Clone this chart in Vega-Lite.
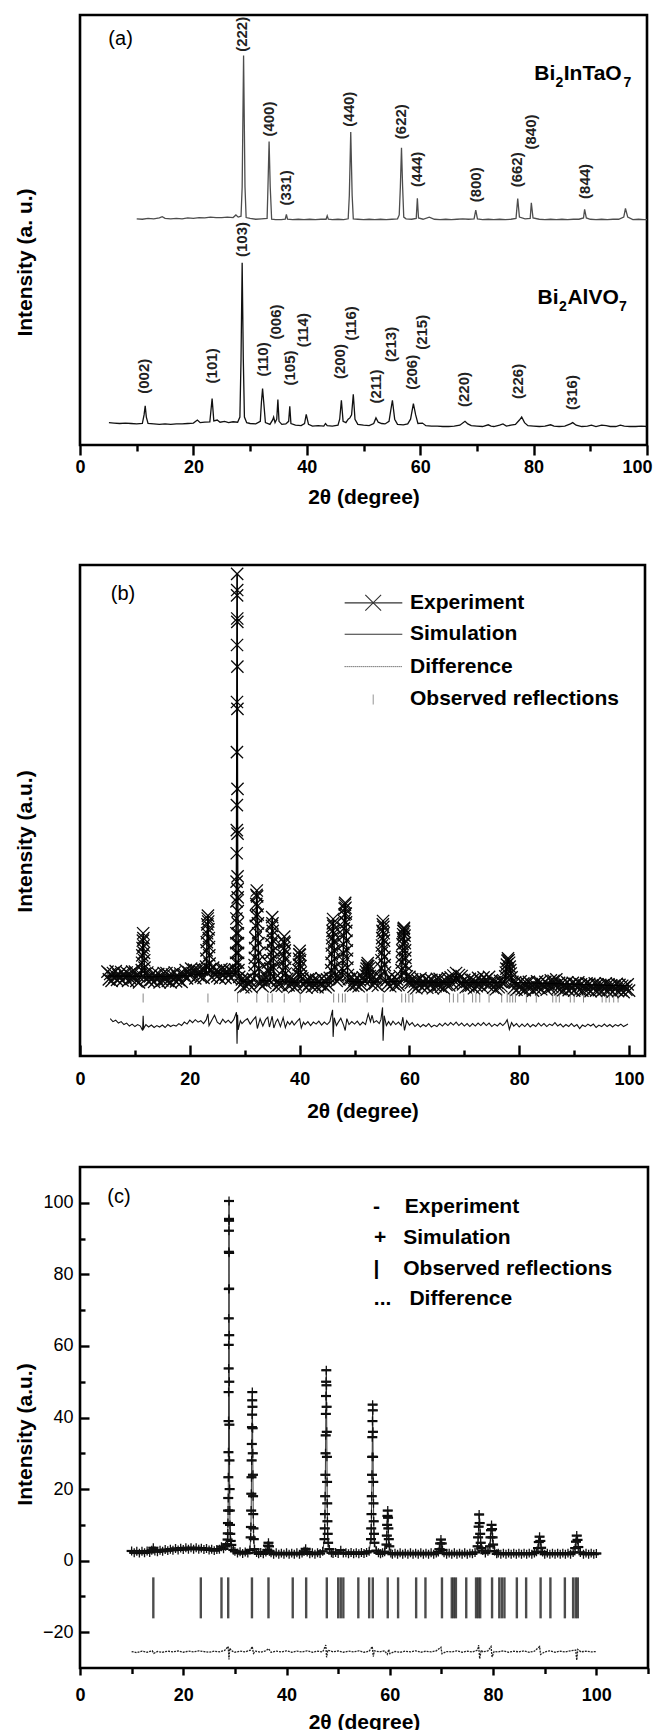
{
  "$schema": "https://vega.github.io/schema/vega-lite/v6.json",
  "background": "white",
  "padding": {"left": 12, "top": 13, "right": 0, "bottom": 0},
  "config": {
    "font": "Liberation Sans",
    "view": {"stroke": "#000", "strokeWidth": 2.6},
    "axis": {
      "domain": false, "grid": false, "tickColor": "#000", "tickWidth": 2.4,
      "labelColor": "#000", "labelFont": "Liberation Sans", "labelFontSize": 18, "labelFontWeight": "bold",
      "titleColor": "#000", "titleFont": "Liberation Sans", "titleFontSize": 21, "titleFontWeight": "bold",
      "labelFlush": false, "labelOverlap": false
    },
    "text": {"font": "Liberation Sans", "color": "#000"}
  },
  "datasets": {
    "aInTa": [
      {"x":10.0,"y":52.6},{"x":11,"y":52.5},{"x":12,"y":52.7},{"x":13,"y":52.6},{"x":14,"y":52.8},{"x":14.5,"y":53.1},{"x":15,"y":52.7},{"x":16,"y":52.6},{"x":17,"y":52.7},{"x":18,"y":52.6},{"x":19,"y":52.8},{"x":20,"y":52.7},{"x":21,"y":52.9},{"x":22,"y":52.8},{"x":23,"y":53.0},{"x":24,"y":52.9},{"x":25,"y":52.9},{"x":26,"y":53.0},{"x":27,"y":52.9},{"x":27.5,"y":53.5},{"x":27.9,"y":53.0},{"x":28.4,"y":53.2},{"x":28.6,"y":60},{"x":28.85,"y":90.6},{"x":29.1,"y":60},{"x":29.3,"y":52.9},{"x":30,"y":52.7},{"x":31,"y":52.5},{"x":32,"y":52.6},{"x":33.0,"y":52.7},{"x":33.15,"y":60},{"x":33.35,"y":70.6},{"x":33.55,"y":60},{"x":33.8,"y":52.5},{"x":34.5,"y":52.4},{"x":35.5,"y":52.4},{"x":36.2,"y":52.5},{"x":36.4,"y":53.6},{"x":36.6,"y":52.5},{"x":37.5,"y":52.4},{"x":38.5,"y":52.5},{"x":39.5,"y":52.4},{"x":40.5,"y":52.5},{"x":41.5,"y":52.4},{"x":42.5,"y":52.5},{"x":43.4,"y":52.5},{"x":43.6,"y":53.3},{"x":43.8,"y":52.5},{"x":44.5,"y":52.4},{"x":45.5,"y":52.5},{"x":46.5,"y":52.4},{"x":47.3,"y":52.6},{"x":47.5,"y":58},{"x":47.75,"y":72.8},{"x":48.0,"y":58},{"x":48.2,"y":52.6},{"x":49,"y":52.5},{"x":50,"y":52.4},{"x":51,"y":52.5},{"x":52,"y":52.4},{"x":53,"y":52.5},{"x":54,"y":52.4},{"x":55,"y":52.5},{"x":56,"y":52.6},{"x":56.3,"y":53.5},{"x":56.5,"y":60},{"x":56.7,"y":69.1},{"x":56.9,"y":60},{"x":57.1,"y":53},{"x":57.5,"y":52.6},{"x":58.5,"y":52.5},{"x":59.3,"y":52.7},{"x":59.5,"y":57.4},{"x":59.7,"y":52.8},{"x":60.5,"y":52.5},{"x":61.6,"y":53.0},{"x":62.5,"y":52.5},{"x":63.5,"y":52.4},{"x":64.5,"y":52.5},{"x":65.5,"y":52.4},{"x":66.5,"y":52.5},{"x":67.5,"y":52.6},{"x":68.5,"y":52.5},{"x":69.5,"y":52.6},{"x":69.8,"y":54.6},{"x":70.1,"y":52.6},{"x":71,"y":52.4},{"x":72,"y":52.5},{"x":73,"y":52.4},{"x":74,"y":52.5},{"x":75,"y":52.4},{"x":76,"y":52.5},{"x":76.9,"y":52.7},{"x":77.2,"y":57.3},{"x":77.5,"y":53.0},{"x":78.5,"y":52.6},{"x":79.4,"y":52.7},{"x":79.6,"y":56.3},{"x":79.9,"y":52.8},{"x":81,"y":52.5},{"x":82,"y":52.4},{"x":83,"y":52.5},{"x":84,"y":52.4},{"x":85,"y":52.5},{"x":86,"y":52.4},{"x":87,"y":52.5},{"x":88,"y":52.5},{"x":88.8,"y":52.8},{"x":89.0,"y":54.8},{"x":89.3,"y":52.8},{"x":90,"y":52.5},{"x":91,"y":52.4},{"x":92,"y":52.5},{"x":93,"y":52.4},{"x":94,"y":52.5},{"x":95,"y":52.5},{"x":95.9,"y":53.0},{"x":96.2,"y":55.0},{"x":96.6,"y":53.0},{"x":97.5,"y":52.4},{"x":98.5,"y":52.5},{"x":99.5,"y":52.4},{"x":100,"y":52.4}
    ],
    "aAlVO": [
      {"x":5.1,"y":5.2},{"x":6,"y":5.1},{"x":7,"y":5.0},{"x":8,"y":5.1},{"x":9,"y":5.0},{"x":10,"y":4.9},{"x":11.0,"y":5.0},{"x":11.3,"y":7},{"x":11.5,"y":9.1},{"x":11.7,"y":6.5},{"x":12.0,"y":5.0},{"x":13,"y":4.9},{"x":14,"y":4.8},{"x":15,"y":4.9},{"x":16,"y":4.8},{"x":17,"y":4.9},{"x":18,"y":4.9},{"x":19,"y":5.0},{"x":20,"y":5.1},{"x":20.7,"y":5.8},{"x":21.2,"y":5.2},{"x":22,"y":5.3},{"x":22.9,"y":5.4},{"x":23.3,"y":10.8},{"x":23.6,"y":5.6},{"x":24.2,"y":5.8},{"x":24.7,"y":5.3},{"x":25.5,"y":5.5},{"x":26.2,"y":5.2},{"x":27,"y":5.4},{"x":27.8,"y":5.3},{"x":28.2,"y":6.5},{"x":28.4,"y":20},{"x":28.6,"y":42.4},{"x":28.8,"y":20},{"x":29.0,"y":6.5},{"x":29.4,"y":5.2},{"x":30,"y":5.0},{"x":31,"y":4.9},{"x":31.8,"y":5.5},{"x":32.0,"y":10},{"x":32.2,"y":13.1},{"x":32.4,"y":10},{"x":32.7,"y":5.2},{"x":33.5,"y":4.8},{"x":34.0,"y":5.9},{"x":34.15,"y":6.5},{"x":34.4,"y":5.2},{"x":34.7,"y":6},{"x":34.9,"y":10.6},{"x":35.1,"y":5.5},{"x":35.6,"y":4.8},{"x":36.3,"y":4.9},{"x":36.8,"y":5.5},{"x":37.0,"y":9.0},{"x":37.2,"y":5.0},{"x":38,"y":4.6},{"x":39,"y":4.5},{"x":39.6,"y":5.0},{"x":39.9,"y":7.1},{"x":40.3,"y":4.8},{"x":41,"y":4.4},{"x":42,"y":4.5},{"x":43.0,"y":4.4},{"x":43.3,"y":5.0},{"x":43.6,"y":4.5},{"x":44.5,"y":4.4},{"x":45.5,"y":4.6},{"x":45.8,"y":6},{"x":46.1,"y":10.4},{"x":46.4,"y":5.5},{"x":46.9,"y":5.2},{"x":47.3,"y":6.0},{"x":47.6,"y":6.3},{"x":47.9,"y":7},{"x":48.2,"y":11.8},{"x":48.5,"y":6},{"x":49,"y":4.8},{"x":50,"y":4.6},{"x":51,"y":4.5},{"x":51.8,"y":5.0},{"x":52.2,"y":6.3},{"x":52.6,"y":5.3},{"x":53.2,"y":5.0},{"x":53.8,"y":4.9},{"x":54.5,"y":5.5},{"x":54.8,"y":8},{"x":55.1,"y":10.4},{"x":55.5,"y":6.0},{"x":56,"y":4.8},{"x":57,"y":4.7},{"x":57.8,"y":4.9},{"x":58.3,"y":6},{"x":58.8,"y":9.6},{"x":59.2,"y":7},{"x":59.6,"y":5.0},{"x":60.4,"y":5.1},{"x":61,"y":4.5},{"x":62,"y":4.4},{"x":63,"y":4.4},{"x":64,"y":4.3},{"x":65,"y":4.3},{"x":66,"y":4.4},{"x":67,"y":4.6},{"x":67.9,"y":5.5},{"x":68.4,"y":4.9},{"x":69,"y":4.5},{"x":70,"y":4.4},{"x":71,"y":4.3},{"x":72,"y":4.7},{"x":72.5,"y":4.4},{"x":73,"y":4.3},{"x":74,"y":4.6},{"x":74.6,"y":4.9},{"x":75.2,"y":4.4},{"x":76,"y":4.6},{"x":76.8,"y":4.8},{"x":77.5,"y":5.8},{"x":77.9,"y":6.5},{"x":78.4,"y":5.2},{"x":79,"y":4.5},{"x":80,"y":4.4},{"x":81,"y":4.3},{"x":82,"y":4.4},{"x":83,"y":4.7},{"x":83.6,"y":4.4},{"x":84.5,"y":4.3},{"x":85.5,"y":4.4},{"x":86.5,"y":4.9},{"x":86.9,"y":5.2},{"x":87.5,"y":4.6},{"x":88.5,"y":4.3},{"x":89.5,"y":4.4},{"x":90.2,"y":4.6},{"x":91,"y":4.3},{"x":92,"y":4.6},{"x":92.8,"y":4.5},{"x":93.5,"y":4.3},{"x":94.5,"y":4.3},{"x":95.3,"y":4.6},{"x":96,"y":4.4},{"x":97,"y":4.3},{"x":98,"y":4.3},{"x":99,"y":4.4},{"x":100,"y":4.3}
    ],
    "aHkl": [
      {"x":28.65,"y":95.5,"t":"(222)"},{"x":33.35,"y":75.8,"t":"(400)"},{"x":36.3,"y":59.8,"t":"(331)"},{"x":47.5,"y":78.1,"t":"(440)"},{"x":56.6,"y":75.2,"t":"(622)"},{"x":59.5,"y":64.1,"t":"(444)"},{"x":69.9,"y":60.5,"t":"(800)"},{"x":77.0,"y":64.0,"t":"(662)"},{"x":79.5,"y":72.8,"t":"(840)"},{"x":89.0,"y":61.3,"t":"(844)"},
      {"x":11.3,"y":16.0,"t":"(002)"},{"x":23.2,"y":18.4,"t":"(101)"},{"x":28.6,"y":47.8,"t":"(103)"},{"x":32.2,"y":19.9,"t":"(110)"},{"x":34.5,"y":28.6,"t":"(006)"},{"x":37.1,"y":17.9,"t":"(105)"},{"x":39.4,"y":26.7,"t":"(114)"},{"x":45.8,"y":19.4,"t":"(200)"},{"x":47.8,"y":28.3,"t":"(116)"},{"x":52.2,"y":13.6,"t":"(211)"},{"x":54.8,"y":23.4,"t":"(213)"},{"x":58.6,"y":16.9,"t":"(206)"},{"x":60.3,"y":26.2,"t":"(215)"},{"x":67.8,"y":12.9,"t":"(220)"},{"x":77.2,"y":14.8,"t":"(226)"},{"x":86.7,"y":12.2,"t":"(316)"}
    ],
    "aNameMain": [
      {"x":80.11,"y":84.81,"t":"Bi"},{"x":85.32,"y":84.81,"t":"InTaO"},{"x":80.69,"y":32.86,"t":"Bi"},{"x":85.96,"y":32.86,"t":"AlVO"}
    ],
    "aNameSub": [
      {"x":83.87,"y":83.26,"t":"2"},{"x":95.87,"y":83.26,"t":"7"},{"x":84.5,"y":31.23,"t":"2"},{"x":95.08,"y":31.23,"t":"7"}
    ],
    "aTag": [{"x":5.0,"y":94.4,"t":"(a)"}],
    "bExp": [
      {"x":5.0,"y":17.2},{"x":5.25,"y":15.6},{"x":5.5,"y":16.7},{"x":5.75,"y":15.3},{"x":6.0,"y":16.9},{"x":6.25,"y":16.0},{"x":6.5,"y":17.3},{"x":6.75,"y":15.5},{"x":7.0,"y":16.5},{"x":7.25,"y":15.8},{"x":7.5,"y":17.1},{"x":7.75,"y":15.4},{"x":8.0,"y":16.8},{"x":8.25,"y":16.1},{"x":8.5,"y":17.0},{"x":8.75,"y":15.3},{"x":9.0,"y":16.6},{"x":9.25,"y":15.7},{"x":9.5,"y":17.2},{"x":9.75,"y":15.9},{"x":10.0,"y":17.2},
      {"x":10.25,"y":15.3},{"x":10.5,"y":16.4},{"x":10.75,"y":15.0},{"x":11.0,"y":16.6},
      {"x":11.25,"y":17.5},{"x":11.3,"y":19.0},{"x":11.35,"y":20.5},{"x":11.4,"y":22.0},{"x":11.45,"y":23.5},{"x":11.5,"y":25.0},{"x":11.55,"y":24.0},{"x":11.6,"y":22.5},{"x":11.65,"y":21.0},{"x":11.7,"y":19.5},{"x":11.75,"y":18.0},{"x":11.8,"y":16.8},
      {"x":12.0,"y":15.7},{"x":12.25,"y":17.0},{"x":12.5,"y":15.2},{"x":12.75,"y":16.2},{"x":13.0,"y":15.5},{"x":13.25,"y":16.8},{"x":13.5,"y":15.1},{"x":13.75,"y":16.5},{"x":14.0,"y":15.8},{"x":14.25,"y":16.7},{"x":14.5,"y":15.0},{"x":14.75,"y":16.3},{"x":15.0,"y":15.4},{"x":15.25,"y":16.9},{"x":15.5,"y":15.6},{"x":15.75,"y":16.9},{"x":16.0,"y":15.3},{"x":16.25,"y":16.4},{"x":16.5,"y":15.0},{"x":16.75,"y":16.6},{"x":17.0,"y":15.7},{"x":17.25,"y":17.0},{"x":17.5,"y":15.2},{"x":17.75,"y":16.2},{"x":18.0,"y":15.5},{"x":18.25,"y":16.8},{"x":18.5,"y":15.1},{"x":18.75,"y":16.5},
      {"x":19.0,"y":16.6},{"x":19.25,"y":17.5},{"x":19.5,"y":15.8},{"x":19.75,"y":17.1},{"x":20.0,"y":16.4},{"x":20.25,"y":17.8},{"x":20.5,"y":16.9},{"x":20.75,"y":17.6},{"x":21.0,"y":15.8},{"x":21.25,"y":17.4},{"x":21.5,"y":16.5},{"x":21.75,"y":17.3},{"x":22.0,"y":16.1},{"x":22.25,"y":17.6},{"x":22.5,"y":15.9},{"x":22.75,"y":17.5},
      {"x":22.95,"y":18.2},{"x":23.0,"y":19.8},{"x":23.05,"y":21.5},{"x":23.1,"y":23.2},{"x":23.15,"y":25.0},{"x":23.2,"y":26.8},{"x":23.25,"y":28.0},{"x":23.3,"y":28.6},{"x":23.35,"y":27.4},{"x":23.4,"y":25.8},{"x":23.45,"y":24.0},{"x":23.5,"y":22.2},{"x":23.55,"y":20.5},{"x":23.6,"y":18.8},{"x":23.65,"y":17.5},
      {"x":23.75,"y":17.7},{"x":24.0,"y":16.0},{"x":24.25,"y":18.0},{"x":24.5,"y":16.6},{"x":24.75,"y":17.4},{"x":25.0,"y":16.2},{"x":25.25,"y":17.2},{"x":25.5,"y":15.8},{"x":25.75,"y":17.7},{"x":26.0,"y":16.4},{"x":26.25,"y":17.6},{"x":26.5,"y":15.9},{"x":26.75,"y":17.3},{"x":27.0,"y":16.6},{"x":27.25,"y":17.5},{"x":27.5,"y":15.8},{"x":27.75,"y":17.1},{"x":28.0,"y":16.5},{"x":28.25,"y":17.6},
      {"x":28.4,"y":17},{"x":28.43,"y":19},{"x":28.45,"y":21},{"x":28.47,"y":23},{"x":28.48,"y":25},{"x":28.49,"y":28},{"x":28.5,"y":31.5},{"x":28.52,"y":35.5},{"x":28.54,"y":41.3},{"x":28.56,"y":46.0},{"x":28.57,"y":51.1},{"x":28.58,"y":61.9},{"x":28.59,"y":72.1},{"x":28.6,"y":83.7},{"x":28.61,"y":93.8},{"x":28.62,"y":98.2},{"x":28.63,"y":94.9},{"x":28.64,"y":89.1},{"x":28.65,"y":88.4},{"x":28.66,"y":79.3},{"x":28.67,"y":70.7},{"x":28.68,"y":54.4},{"x":28.69,"y":45.3},{"x":28.7,"y":36.6},{"x":28.71,"y":34.0},{"x":28.72,"y":32.3},{"x":28.73,"y":29.5},{"x":28.74,"y":27},{"x":28.76,"y":25},{"x":28.77,"y":23},{"x":28.79,"y":21},{"x":28.8,"y":19},{"x":28.85,"y":17.5},
      {"x":29.0,"y":16.1},{"x":29.25,"y":14.5},{"x":29.5,"y":15.6},{"x":29.75,"y":14.0},{"x":30.0,"y":15.5},{"x":30.25,"y":14.2},{"x":30.5,"y":15.8},{"x":30.75,"y":14.6},{"x":31.0,"y":15.2},{"x":31.25,"y":14.0},{"x":31.5,"y":15.7},
      {"x":31.75,"y":17.0},{"x":31.8,"y":18.5},{"x":31.85,"y":20.0},{"x":31.9,"y":22.0},{"x":31.95,"y":24.0},{"x":32.0,"y":26.5},{"x":32.05,"y":28.5},{"x":32.1,"y":31.0},{"x":32.15,"y":32.8},{"x":32.2,"y":33.7},{"x":32.25,"y":32.5},{"x":32.3,"y":30.5},{"x":32.35,"y":28.8},{"x":32.4,"y":27.0},{"x":32.45,"y":25.0},{"x":32.5,"y":23.0},{"x":32.55,"y":21.0},{"x":32.6,"y":19.5},{"x":32.65,"y":17.8},
      {"x":32.75,"y":14.7},{"x":33.0,"y":15.4},{"x":33.25,"y":14.2},{"x":33.5,"y":15.6},{"x":33.75,"y":14.9},{"x":34.0,"y":15.9},{"x":34.1,"y":17.5},{"x":34.2,"y":19.0},{"x":34.3,"y":17.3},{"x":34.5,"y":15.3},
      {"x":34.7,"y":17.8},{"x":34.75,"y":19.5},{"x":34.8,"y":21.0},{"x":34.85,"y":22.8},{"x":34.9,"y":24.5},{"x":34.95,"y":26.5},{"x":35.0,"y":28.3},{"x":35.05,"y":27.0},{"x":35.1,"y":25.5},{"x":35.15,"y":23.5},{"x":35.2,"y":21.5},{"x":35.25,"y":19.8},{"x":35.3,"y":18.0},
      {"x":35.5,"y":15.8},{"x":35.75,"y":14.1},{"x":36.0,"y":15.3},{"x":36.25,"y":14.5},{"x":36.5,"y":15.8},{"x":36.75,"y":14.3},
      {"x":36.95,"y":17.5},{"x":37.0,"y":19.0},{"x":37.05,"y":20.5},{"x":37.1,"y":22.0},{"x":37.15,"y":23.3},{"x":37.2,"y":24.3},{"x":37.25,"y":23.0},{"x":37.3,"y":21.5},{"x":37.35,"y":19.8},{"x":37.4,"y":18.0},{"x":37.45,"y":16.8},
      {"x":37.75,"y":15.7},{"x":38.0,"y":14.4},{"x":38.25,"y":15.6},{"x":38.5,"y":14.6},{"x":38.75,"y":15.4},{"x":39.0,"y":14.0},{"x":39.25,"y":15.2},{"x":39.5,"y":14.3},
      {"x":39.75,"y":16.6},{"x":39.8,"y":17.5},{"x":39.85,"y":18.6},{"x":39.9,"y":19.8},{"x":39.95,"y":20.7},{"x":40.0,"y":21.4},{"x":40.05,"y":20.6},{"x":40.1,"y":19.5},{"x":40.15,"y":18.3},{"x":40.2,"y":17.0},{"x":40.25,"y":16.2},
      {"x":40.5,"y":15.8},{"x":40.75,"y":14.5},{"x":41.0,"y":15.2},{"x":41.25,"y":13.9},{"x":41.5,"y":15.6},{"x":41.75,"y":14.7},{"x":42.0,"y":15.8},{"x":42.25,"y":14.1},{"x":42.5,"y":15.4},{"x":42.75,"y":14.3},{"x":43.0,"y":15.5},{"x":43.25,"y":14.0},{"x":43.5,"y":15.2},{"x":43.75,"y":14.6},{"x":44.0,"y":15.8},{"x":44.25,"y":14.5},{"x":44.5,"y":15.3},{"x":44.75,"y":14.0},{"x":45.0,"y":15.6},{"x":45.25,"y":14.4},{"x":45.5,"y":15.9},
      {"x":45.75,"y":17.5},{"x":45.8,"y":19.0},{"x":45.85,"y":20.8},{"x":45.9,"y":22.5},{"x":45.95,"y":24.0},{"x":46.0,"y":25.5},{"x":46.05,"y":27.0},{"x":46.1,"y":27.9},{"x":46.15,"y":26.5},{"x":46.2,"y":25.0},{"x":46.25,"y":23.3},{"x":46.3,"y":21.5},{"x":46.35,"y":19.8},{"x":46.4,"y":18.0},{"x":46.5,"y":16.5},
      {"x":46.75,"y":15.3},{"x":47.0,"y":16.4},{"x":47.25,"y":15.6},{"x":47.5,"y":16.8},{"x":47.7,"y":17.8},
      {"x":47.85,"y":19.5},{"x":47.9,"y":21.0},{"x":47.95,"y":22.8},{"x":48.0,"y":24.5},{"x":48.05,"y":26.0},{"x":48.1,"y":27.5},{"x":48.15,"y":28.8},{"x":48.2,"y":30.0},{"x":48.25,"y":30.8},{"x":48.3,"y":31.2},{"x":48.35,"y":30.2},{"x":48.4,"y":29.0},{"x":48.45,"y":27.2},{"x":48.5,"y":25.5},{"x":48.55,"y":23.5},{"x":48.6,"y":21.5},{"x":48.65,"y":19.8},{"x":48.7,"y":18.0},{"x":48.8,"y":16.5},
      {"x":49.0,"y":15.7},{"x":49.25,"y":14.4},{"x":49.5,"y":15.9},{"x":49.75,"y":14.3},{"x":50.0,"y":15.5},{"x":50.25,"y":14.6},{"x":50.5,"y":15.8},{"x":50.75,"y":14.2},{"x":51.0,"y":15.4},{"x":51.25,"y":14.5},{"x":51.5,"y":16.0},{"x":51.75,"y":15.4},
      {"x":52.0,"y":16.5},{"x":52.1,"y":17.2},{"x":52.2,"y":17.8},{"x":52.3,"y":18.4},{"x":52.4,"y":18.9},{"x":52.5,"y":18.3},{"x":52.6,"y":17.8},{"x":52.7,"y":17.0},{"x":52.8,"y":16.3},
      {"x":53.0,"y":15.6},{"x":53.25,"y":14.5},{"x":53.5,"y":16.0},{"x":53.75,"y":14.8},{"x":54.0,"y":15.6},{"x":54.25,"y":14.3},{"x":54.5,"y":16.2},
      {"x":54.85,"y":18.0},{"x":54.9,"y":19.5},{"x":54.95,"y":21.0},{"x":55.0,"y":22.5},{"x":55.05,"y":24.0},{"x":55.1,"y":25.5},{"x":55.15,"y":26.8},{"x":55.2,"y":27.5},{"x":55.25,"y":26.3},{"x":55.3,"y":25.0},{"x":55.35,"y":23.5},{"x":55.4,"y":22.0},{"x":55.45,"y":20.2},{"x":55.5,"y":18.5},{"x":55.55,"y":17.0},
      {"x":55.75,"y":15.4},{"x":56.0,"y":14.6},{"x":56.25,"y":15.9},{"x":56.5,"y":14.2},{"x":56.75,"y":15.5},{"x":57.0,"y":14.8},{"x":57.25,"y":16.0},{"x":57.5,"y":14.4},{"x":57.75,"y":15.6},{"x":58.0,"y":14.5},{"x":58.25,"y":16.3},
      {"x":58.55,"y":17.5},{"x":58.6,"y":19.0},{"x":58.65,"y":20.2},{"x":58.7,"y":21.5},{"x":58.75,"y":22.8},{"x":58.8,"y":24.0},{"x":58.85,"y":24.8},{"x":58.9,"y":25.5},{"x":58.95,"y":25.9},{"x":59.0,"y":26.1},{"x":59.05,"y":25.3},{"x":59.1,"y":24.5},{"x":59.15,"y":23.0},{"x":59.2,"y":21.5},{"x":59.25,"y":20.0},{"x":59.3,"y":18.5},{"x":59.35,"y":17.2},
      {"x":59.5,"y":16.2},{"x":59.75,"y":15.0},{"x":60.0,"y":16.1},{"x":60.25,"y":14.9},
      {"x":60.5,"y":15.6},{"x":60.75,"y":14.1},{"x":61.0,"y":15.2},{"x":61.25,"y":13.8},{"x":61.5,"y":15.4},{"x":61.75,"y":14.5},{"x":62.0,"y":15.8},{"x":62.25,"y":14.0},{"x":62.5,"y":15.0},{"x":62.75,"y":14.3},{"x":63.0,"y":15.6},{"x":63.25,"y":13.9},{"x":63.5,"y":15.3},{"x":63.75,"y":14.6},{"x":64.0,"y":15.5},{"x":64.25,"y":13.8},{"x":64.5,"y":15.1},{"x":64.75,"y":14.2},{"x":65.0,"y":15.7},{"x":65.25,"y":14.4},{"x":65.5,"y":15.7},{"x":65.75,"y":14.1},{"x":66.0,"y":15.2},{"x":66.25,"y":13.8},{"x":66.5,"y":15.4},{"x":66.75,"y":14.5},{"x":67.0,"y":15.8},{"x":67.25,"y":14.4},{"x":67.5,"y":16.0},{"x":67.75,"y":14.9},{"x":68.0,"y":16.4},{"x":68.25,"y":15.3},{"x":68.5,"y":16.9},{"x":68.75,"y":15.4},{"x":69.0,"y":16.5},{"x":69.25,"y":14.8},{"x":69.5,"y":16.3},{"x":69.75,"y":14.6},{"x":70.0,"y":15.5},{"x":70.25,"y":14.0},{"x":70.5,"y":15.1},{"x":70.75,"y":14.2},{"x":71.0,"y":15.7},{"x":71.25,"y":14.4},{"x":71.5,"y":15.5},{"x":71.75,"y":13.8},{"x":72.0,"y":15.1},{"x":72.25,"y":14.2},{"x":72.5,"y":15.9},{"x":72.75,"y":14.5},{"x":73.0,"y":15.3},{"x":73.25,"y":14.0},{"x":73.5,"y":16.0},{"x":73.75,"y":14.9},{"x":74.0,"y":15.6},{"x":74.25,"y":14.4},{"x":74.5,"y":16.1},{"x":74.75,"y":14.7},{"x":75.0,"y":15.4},
      {"x":75.25,"y":13.9},{"x":75.5,"y":15.0},{"x":75.75,"y":13.6},{"x":76.0,"y":14.9},{"x":76.25,"y":14.0},{"x":76.5,"y":15.3},{"x":76.75,"y":14.2},{"x":77.0,"y":15.0},{"x":77.25,"y":15.2},
      {"x":77.45,"y":16.2},{"x":77.55,"y":17.0},{"x":77.65,"y":17.8},{"x":77.75,"y":18.6},{"x":77.85,"y":19.4},{"x":77.95,"y":19.9},{"x":78.05,"y":19.5},{"x":78.15,"y":19.0},{"x":78.25,"y":18.2},{"x":78.35,"y":17.5},{"x":78.45,"y":16.8},{"x":78.6,"y":16.0},
      {"x":78.75,"y":15.1},{"x":79.0,"y":13.8},{"x":79.25,"y":15.0},{"x":79.5,"y":13.5},{"x":79.75,"y":14.7},{"x":80.0,"y":13.9},{"x":80.25,"y":15.2},{"x":80.5,"y":13.6},{"x":80.75,"y":14.8},{"x":81.0,"y":13.4},{"x":81.25,"y":14.9},{"x":81.5,"y":14.0},{"x":81.75,"y":15.1},{"x":82.0,"y":13.8},{"x":82.25,"y":14.5},{"x":82.5,"y":13.3},{"x":82.75,"y":14.6},{"x":83.0,"y":13.7},{"x":83.25,"y":15.2},{"x":83.5,"y":13.9},{"x":83.75,"y":15.0},{"x":84.0,"y":13.6},{"x":84.25,"y":14.7},{"x":84.5,"y":14.1},{"x":84.75,"y":15.1},{"x":85.0,"y":13.5},{"x":85.25,"y":14.6},{"x":85.5,"y":13.9},{"x":85.75,"y":15.4},{"x":86.0,"y":14.1},{"x":86.25,"y":15.3},{"x":86.5,"y":14.4},{"x":86.75,"y":15.6},{"x":87.0,"y":13.8},{"x":87.25,"y":14.9},{"x":87.5,"y":13.6},{"x":87.75,"y":14.8},{"x":88.0,"y":13.4},{"x":88.25,"y":14.6},{"x":88.5,"y":13.8},{"x":88.75,"y":15.0},{"x":89.0,"y":13.4},{"x":89.25,"y":14.5},{"x":89.5,"y":13.7},{"x":89.75,"y":14.9},{"x":90.0,"y":13.3},{"x":90.25,"y":14.7},{"x":90.5,"y":13.9},{"x":90.75,"y":15.0},{"x":91.0,"y":13.5},{"x":91.25,"y":14.6},{"x":91.5,"y":13.3},{"x":91.75,"y":14.4},{"x":92.0,"y":13.5},{"x":92.25,"y":14.8},{"x":92.5,"y":13.6},{"x":92.75,"y":14.7},{"x":93.0,"y":13.2},{"x":93.25,"y":14.3},{"x":93.5,"y":13.7},{"x":93.75,"y":14.8},{"x":94.0,"y":13.3},{"x":94.25,"y":14.6},{"x":94.5,"y":13.4},{"x":94.75,"y":14.5},{"x":95.0,"y":13.2},{"x":95.25,"y":14.4},{"x":95.5,"y":13.6},{"x":95.75,"y":14.8},{"x":96.0,"y":13.3},{"x":96.25,"y":14.6},{"x":96.5,"y":13.5},{"x":96.75,"y":14.4},{"x":97.0,"y":13.1},{"x":97.25,"y":14.3},{"x":97.5,"y":13.6},{"x":97.75,"y":14.7},{"x":98.0,"y":13.2},{"x":98.25,"y":14.5},{"x":98.5,"y":13.4},{"x":98.75,"y":14.3},{"x":99.0,"y":13.0},{"x":99.25,"y":14.2},{"x":99.5,"y":13.5},{"x":99.75,"y":14.6},{"x":100.0,"y":13.3}
    ],
    "bSim": [
      {"x":5,"y":16.3},{"x":11.2,"y":16.2},{"x":11.5,"y":25.0},{"x":11.8,"y":16.1},{"x":20,"y":16.4},{"x":23.0,"y":16.9},{"x":23.3,"y":28.6},{"x":23.6,"y":16.9},{"x":28.3,"y":16.8},{"x":28.45,"y":30},{"x":28.55,"y":70},{"x":28.62,"y":98.2},{"x":28.68,"y":70},{"x":28.75,"y":30},{"x":28.9,"y":16.0},{"x":29.5,"y":15.2},{"x":31.8,"y":15.3},{"x":32.2,"y":33.7},{"x":32.6,"y":15.4},{"x":34.7,"y":15.3},{"x":35.0,"y":28.3},{"x":35.3,"y":15.3},{"x":36.9,"y":15.2},{"x":37.2,"y":24.3},{"x":37.5,"y":15.1},{"x":39.7,"y":15.0},{"x":40.0,"y":21.4},{"x":40.3,"y":15.0},{"x":45.7,"y":15.0},{"x":46.1,"y":27.9},{"x":46.5,"y":15.3},{"x":47.8,"y":16},{"x":48.3,"y":31.2},{"x":48.8,"y":15.2},{"x":52.0,"y":15.0},{"x":52.4,"y":18.9},{"x":52.8,"y":15.0},{"x":54.8,"y":15.1},{"x":55.2,"y":27.5},{"x":55.6,"y":15.1},{"x":58.5,"y":15.2},{"x":59.0,"y":26.1},{"x":59.5,"y":15.1},{"x":68,"y":15.0},{"x":68.5,"y":16.5},{"x":69,"y":15.0},{"x":77.3,"y":15.0},{"x":78.0,"y":19.9},{"x":78.7,"y":15.0},{"x":100,"y":14.3}
    ],
    "bDiff": [
      {"x":5.5,"y":7.6},{"x":6.0,"y":7.0},{"x":6.5,"y":7.3},{"x":7.0,"y":6.7},{"x":7.5,"y":7.0},{"x":8.0,"y":6.4},{"x":8.5,"y":6.7},{"x":9.0,"y":6.1},{"x":9.5,"y":6.5},{"x":10.0,"y":6.0},{"x":10.5,"y":6.4},{"x":11.0,"y":6.1},{"x":11.4,"y":5.2},{"x":11.5,"y":8.2},{"x":11.6,"y":5.6},{"x":12.0,"y":6.4},{"x":12.5,"y":5.9},{"x":13.0,"y":6.3},{"x":13.5,"y":5.8},{"x":14.0,"y":6.2},{"x":14.5,"y":5.9},{"x":15.0,"y":6.3},{"x":15.5,"y":5.8},{"x":16.0,"y":6.4},{"x":16.5,"y":6.0},{"x":17.0,"y":6.3},{"x":17.5,"y":6.1},{"x":18.0,"y":6.6},{"x":18.5,"y":6.2},{"x":19.0,"y":6.9},{"x":19.5,"y":6.5},{"x":20.0,"y":7.3},{"x":20.5,"y":6.8},{"x":21.0,"y":7.4},{"x":21.5,"y":6.9},{"x":22.0,"y":7.2},{"x":22.5,"y":6.6},{"x":23.0,"y":7.4},{"x":23.3,"y":8.6},{"x":23.5,"y":6.2},{"x":24.0,"y":7.3},{"x":24.5,"y":8.3},{"x":25.0,"y":6.9},{"x":25.5,"y":6.5},{"x":26.0,"y":7.5},{"x":26.5,"y":6.8},{"x":27.0,"y":7.3},{"x":27.5,"y":6.7},{"x":28.0,"y":7.4},{"x":28.5,"y":8.9},{"x":28.6,"y":2.5},{"x":28.7,"y":8.4},{"x":28.8,"y":5.3},{"x":29.2,"y":7.2},{"x":29.5,"y":6.6},{"x":30.0,"y":7.2},{"x":30.5,"y":7.6},{"x":31.0,"y":6.5},{"x":31.5,"y":7.3},{"x":32.0,"y":8.0},{"x":32.3,"y":5.6},{"x":32.8,"y":7.6},{"x":33.3,"y":6.1},{"x":33.8,"y":7.4},{"x":34.2,"y":7.9},{"x":34.5,"y":5.9},{"x":35.0,"y":8.1},{"x":35.3,"y":5.7},{"x":35.7,"y":7.0},{"x":36.0,"y":7.5},{"x":36.5,"y":6.0},{"x":37.0,"y":7.8},{"x":37.4,"y":5.8},{"x":37.8,"y":7.0},{"x":38.2,"y":6.4},{"x":38.6,"y":7.1},{"x":39.0,"y":6.3},{"x":39.5,"y":7.0},{"x":40.0,"y":7.6},{"x":40.3,"y":5.7},{"x":40.7,"y":6.9},{"x":41.0,"y":6.4},{"x":41.5,"y":7.0},{"x":42.0,"y":6.2},{"x":42.5,"y":6.9},{"x":43.0,"y":6.5},{"x":43.5,"y":7.1},{"x":44.0,"y":6.3},{"x":44.5,"y":6.9},{"x":45.0,"y":6.4},{"x":45.5,"y":7.0},{"x":46.0,"y":9.4},{"x":46.1,"y":3.9},{"x":46.3,"y":7.8},{"x":46.7,"y":6.2},{"x":47.0,"y":6.8},{"x":47.5,"y":7.7},{"x":48.0,"y":6.3},{"x":48.3,"y":5.2},{"x":48.6,"y":7.6},{"x":49.0,"y":6.4},{"x":49.5,"y":7.0},{"x":50.0,"y":6.5},{"x":50.5,"y":7.1},{"x":51.0,"y":6.3},{"x":51.5,"y":6.9},{"x":52.0,"y":6.4},{"x":52.5,"y":8.6},{"x":52.9,"y":7.0},{"x":53.2,"y":8.3},{"x":53.5,"y":6.8},{"x":54.0,"y":7.2},{"x":54.5,"y":6.6},{"x":54.8,"y":7.4},{"x":55.1,"y":9.9},{"x":55.2,"y":3.1},{"x":55.4,"y":8.2},{"x":55.8,"y":6.2},{"x":56.2,"y":7.0},{"x":56.6,"y":6.3},{"x":57.0,"y":7.1},{"x":57.5,"y":6.4},{"x":58.0,"y":6.9},{"x":58.5,"y":6.2},{"x":58.8,"y":7.9},{"x":59.1,"y":5.2},{"x":59.5,"y":7.2},{"x":60.0,"y":6.3},{"x":60.5,"y":6.8},{"x":61.0,"y":6.0},{"x":61.5,"y":6.5},{"x":62.0,"y":5.9},{"x":62.5,"y":6.4},{"x":63.0,"y":6.0},{"x":63.5,"y":6.6},{"x":64.0,"y":5.9},{"x":64.5,"y":6.3},{"x":65.0,"y":6.0},{"x":65.5,"y":6.6},{"x":66.0,"y":6.1},{"x":66.5,"y":6.7},{"x":67.0,"y":6.2},{"x":67.5,"y":6.8},{"x":68.0,"y":6.3},{"x":68.5,"y":6.9},{"x":69.0,"y":6.2},{"x":69.5,"y":6.7},{"x":70.0,"y":6.1},{"x":70.5,"y":6.6},{"x":71.0,"y":6.0},{"x":71.5,"y":6.6},{"x":72.0,"y":6.1},{"x":72.5,"y":6.7},{"x":73.0,"y":6.2},{"x":73.5,"y":6.8},{"x":74.0,"y":6.2},{"x":74.5,"y":6.7},{"x":75.0,"y":6.0},{"x":75.5,"y":6.5},{"x":76.0,"y":6.1},{"x":76.5,"y":6.7},{"x":77.0,"y":6.2},{"x":77.5,"y":6.8},{"x":77.8,"y":7.4},{"x":78.2,"y":5.4},{"x":78.6,"y":6.8},{"x":79.0,"y":6.1},{"x":79.5,"y":6.6},{"x":80.0,"y":5.9},{"x":80.5,"y":6.5},{"x":81.0,"y":6.0},{"x":81.5,"y":6.6},{"x":82.0,"y":5.9},{"x":82.5,"y":6.4},{"x":83.0,"y":6.0},{"x":83.5,"y":6.7},{"x":84.0,"y":6.1},{"x":84.5,"y":6.6},{"x":85.0,"y":6.0},{"x":85.5,"y":6.5},{"x":86.0,"y":6.2},{"x":86.5,"y":6.8},{"x":87.0,"y":6.1},{"x":87.5,"y":6.5},{"x":88.0,"y":5.9},{"x":88.5,"y":6.4},{"x":89.0,"y":6.0},{"x":89.5,"y":6.6},{"x":90.0,"y":6.0},{"x":90.5,"y":6.4},{"x":91.0,"y":5.6},{"x":91.5,"y":6.3},{"x":92.0,"y":6.0},{"x":92.5,"y":6.5},{"x":93.0,"y":6.1},{"x":93.5,"y":6.5},{"x":94.0,"y":5.8},{"x":94.5,"y":6.3},{"x":95.0,"y":6.0},{"x":95.5,"y":6.5},{"x":96.0,"y":6.0},{"x":96.5,"y":6.4},{"x":97.0,"y":5.9},{"x":97.5,"y":6.4},{"x":98.0,"y":6.1},{"x":98.5,"y":6.5},{"x":99.0,"y":6.0},{"x":99.5,"y":6.3},{"x":99.8,"y":6.5}
    ],
    "bRefl": [
      {"x":11.5},{"x":23.3},{"x":28.7},{"x":32.2},{"x":34.2},{"x":35.0},{"x":37.2},{"x":40.1},{"x":46.2},{"x":47.1},{"x":47.8},{"x":48.3},{"x":52.3},{"x":55.2},{"x":58.6},{"x":59.3},{"x":59.9},{"x":60.6},{"x":67.3},{"x":68.0},{"x":68.8},{"x":69.9},{"x":71.5},{"x":72.1},{"x":72.8},{"x":74.5},{"x":76.8},{"x":77.8},{"x":78.3},{"x":78.8},{"x":79.3},{"x":81.3},{"x":83.1},{"x":86.1},{"x":86.7},{"x":87.3},{"x":89.3},{"x":90.0},{"x":91.7},{"x":95.1},{"x":95.8},{"x":96.4},{"x":97.2},{"x":98.0}
    ],
    "bKeyText": [
      {"x":60.1,"y":92.3,"t":"Experiment"},{"x":60.1,"y":85.9,"t":"Simulation"},{"x":60.1,"y":79.3,"t":"Difference"},{"x":60.1,"y":72.8,"t":"Observed reflections"}
    ],
    "bKeyLine": [
      {"k":"exp","x":48.2,"x2":58.7,"y":92.3},{"k":"sim","x":48.2,"x2":58.7,"y":85.9},{"k":"diff","x":48.2,"x2":58.7,"y":79.3}
    ],
    "bKeyMark": [{"x":53.4,"y":92.3}],
    "bKeyRefl": [{"x":53.4,"y":72.6}],
    "bTag": [{"x":5.6,"y":94.1,"t":"(b)"}],
    "cExp": [
      {"x":10.0,"y":2.7},{"x":10.5,"y":2.2},{"x":11.0,"y":2.6},{"x":11.5,"y":2.1},{"x":12.0,"y":2.6},{"x":12.5,"y":2.2},{"x":13.0,"y":2.7},{"x":13.5,"y":2.3},{"x":13.9,"y":2.9},{"x":14.2,"y":3.6},{"x":14.5,"y":2.7},{"x":15.0,"y":2.5},{"x":15.5,"y":2.9},{"x":16.0,"y":2.6},{"x":16.5,"y":3.1},{"x":17.0,"y":2.8},{"x":17.5,"y":3.2},{"x":18.0,"y":2.9},{"x":18.5,"y":3.4},{"x":19.0,"y":3.0},{"x":19.5,"y":3.5},{"x":20.0,"y":3.1},{"x":20.5,"y":3.6},{"x":21.0,"y":3.2},{"x":21.5,"y":3.6},{"x":22.0,"y":3.2},{"x":22.5,"y":3.6},{"x":23.0,"y":3.2},{"x":23.5,"y":3.5},{"x":24.0,"y":3.1},{"x":24.5,"y":3.4},{"x":25.0,"y":3.0},{"x":25.5,"y":3.2},{"x":26.0,"y":2.8},{"x":26.5,"y":3.1},{"x":27.0,"y":3.2},{"x":27.4,"y":3.9},{"x":27.8,"y":3.3},{"x":28.2,"y":4.0},{"x":28.5,"y":4.6},
      {"x":28.58,"y":5.9},{"x":28.62,"y":7.6},{"x":28.65,"y":10.5},{"x":28.68,"y":14.0},{"x":28.71,"y":17.5},{"x":28.73,"y":23.3},{"x":28.75,"y":30.3},{"x":28.77,"y":39.0},{"x":28.78,"y":47.1},{"x":28.79,"y":53.7},{"x":28.8,"y":60.3},{"x":28.81,"y":67.7},{"x":28.82,"y":75.9},{"x":28.83,"y":86.3},{"x":28.84,"y":92.2},{"x":28.85,"y":95.5},{"x":28.86,"y":100.5},{"x":28.87,"y":95.0},{"x":28.88,"y":86.0},{"x":28.89,"y":76.0},{"x":28.9,"y":63.0},{"x":28.91,"y":50.0},{"x":28.93,"y":38.0},{"x":28.95,"y":28.0},{"x":28.98,"y":20.0},{"x":29.01,"y":14.0},{"x":29.05,"y":10.0},{"x":29.1,"y":7.5},{"x":29.18,"y":5.5},
      {"x":29.3,"y":4.4},{"x":29.7,"y":3.0},{"x":30.0,"y":2.6},{"x":30.5,"y":2.1},{"x":31.0,"y":2.5},{"x":31.5,"y":2.0},{"x":32.0,"y":2.4},{"x":32.5,"y":2.1},{"x":32.9,"y":3.0},
      {"x":33.05,"y":6.5},{"x":33.1,"y":9.4},{"x":33.15,"y":14.0},{"x":33.18,"y":18.7},{"x":33.21,"y":23.3},{"x":33.24,"y":28.0},{"x":33.27,"y":32.6},{"x":33.3,"y":37.3},{"x":33.33,"y":40.8},{"x":33.35,"y":44.8},{"x":33.37,"y":47.1},{"x":33.4,"y":43.0},{"x":33.43,"y":37.0},{"x":33.46,"y":30.0},{"x":33.49,"y":24.0},{"x":33.52,"y":18.0},{"x":33.55,"y":13.0},{"x":33.6,"y":9.0},{"x":33.65,"y":6.0},
      {"x":33.8,"y":3.2},{"x":34.2,"y":2.3},{"x":34.6,"y":1.9},{"x":35.0,"y":2.3},{"x":35.5,"y":1.9},{"x":36.0,"y":2.4},
      {"x":36.3,"y":3.0},{"x":36.4,"y":4.2},{"x":36.5,"y":5.0},{"x":36.6,"y":4.0},{"x":36.7,"y":2.6},
      {"x":37.0,"y":2.2},{"x":37.5,"y":1.8},{"x":38.0,"y":2.2},{"x":38.5,"y":1.8},{"x":39.0,"y":2.1},{"x":39.5,"y":1.8},{"x":40.0,"y":2.2},{"x":40.5,"y":1.8},{"x":41.0,"y":2.1},{"x":41.5,"y":1.8},{"x":42.0,"y":2.2},{"x":42.5,"y":1.8},{"x":43.0,"y":2.1},{"x":43.4,"y":2.6},{"x":43.7,"y":3.3},{"x":44.0,"y":2.4},{"x":44.5,"y":1.9},{"x":45.0,"y":2.2},{"x":45.5,"y":1.8},{"x":46.0,"y":2.2},{"x":46.5,"y":2.0},{"x":47.0,"y":2.6},
      {"x":47.35,"y":6},{"x":47.4,"y":9},{"x":47.44,"y":13},{"x":47.48,"y":18},{"x":47.52,"y":24},{"x":47.55,"y":30},{"x":47.58,"y":35},{"x":47.61,"y":41},{"x":47.64,"y":46},{"x":47.67,"y":50},{"x":47.7,"y":53.2},{"x":47.73,"y":49},{"x":47.76,"y":43},{"x":47.79,"y":36},{"x":47.82,"y":29},{"x":47.85,"y":22},{"x":47.88,"y":16},{"x":47.92,"y":11},{"x":47.97,"y":7.5},{"x":48.05,"y":5},
      {"x":48.3,"y":3.2},{"x":48.7,"y":2.2},{"x":49.0,"y":2.0},{"x":49.5,"y":2.3},{"x":50.0,"y":2.0},{"x":50.5,"y":2.9},{"x":51.0,"y":2.1},{"x":51.5,"y":2.2},{"x":52.0,"y":1.9},{"x":52.5,"y":2.3},{"x":53.0,"y":1.9},{"x":53.5,"y":2.2},{"x":54.0,"y":1.9},{"x":54.5,"y":2.3},{"x":55.0,"y":2.0},{"x":55.5,"y":2.3},{"x":56.0,"y":2.6},
      {"x":56.35,"y":6},{"x":56.4,"y":9},{"x":56.45,"y":13},{"x":56.5,"y":18},{"x":56.55,"y":24},{"x":56.58,"y":29},{"x":56.61,"y":34.5},{"x":56.64,"y":39},{"x":56.67,"y":43.6},{"x":56.7,"y":42},{"x":56.73,"y":36},{"x":56.76,"y":29},{"x":56.8,"y":22},{"x":56.84,"y":16},{"x":56.88,"y":11},{"x":56.94,"y":7.5},{"x":57.02,"y":5},
      {"x":57.4,"y":2.8},{"x":57.8,"y":2.2},{"x":58.2,"y":1.9},{"x":58.6,"y":2.2},{"x":59.0,"y":2.5},
      {"x":59.35,"y":4.5},{"x":59.42,"y":7},{"x":59.48,"y":10},{"x":59.54,"y":12.5},{"x":59.6,"y":14.0},{"x":59.66,"y":12},{"x":59.72,"y":9},{"x":59.8,"y":6},{"x":59.9,"y":4},
      {"x":60.2,"y":2.1},{"x":60.5,"y":1.8},{"x":61.0,"y":2.1},{"x":61.5,"y":1.8},{"x":62.0,"y":2.2},{"x":62.5,"y":1.8},{"x":63.0,"y":2.1},{"x":63.5,"y":1.8},{"x":64.0,"y":2.2},{"x":64.5,"y":1.8},{"x":65.0,"y":2.1},{"x":65.5,"y":1.8},{"x":66.0,"y":2.2},{"x":66.5,"y":1.8},{"x":67.0,"y":2.1},{"x":67.5,"y":1.8},{"x":68.0,"y":2.2},{"x":68.5,"y":1.8},{"x":69.0,"y":2.1},{"x":69.4,"y":2.4},
      {"x":69.6,"y":3.2},{"x":69.75,"y":4.8},{"x":69.9,"y":5.9},{"x":70.05,"y":4.8},{"x":70.2,"y":3.0},
      {"x":70.5,"y":2.2},{"x":71.0,"y":1.8},{"x":71.5,"y":2.1},{"x":72.0,"y":1.8},{"x":72.5,"y":2.2},{"x":73.0,"y":1.8},{"x":73.5,"y":2.1},{"x":74.0,"y":1.8},{"x":74.5,"y":2.2},{"x":75.0,"y":1.8},{"x":75.5,"y":2.1},{"x":76.0,"y":1.9},{"x":76.5,"y":2.3},
      {"x":77.0,"y":4.0},{"x":77.1,"y":6.5},{"x":77.2,"y":9.5},{"x":77.3,"y":12.9},{"x":77.4,"y":10.5},{"x":77.5,"y":7.5},{"x":77.6,"y":5.0},{"x":77.75,"y":3.5},
      {"x":78.0,"y":2.8},{"x":78.5,"y":2.1},{"x":79.0,"y":2.6},
      {"x":79.4,"y":4.0},{"x":79.5,"y":6.5},{"x":79.6,"y":8.5},{"x":79.7,"y":10.0},{"x":79.8,"y":8.8},{"x":79.9,"y":6.5},{"x":80.0,"y":4.5},
      {"x":80.3,"y":2.7},{"x":80.7,"y":1.9},{"x":81.0,"y":2.1},{"x":81.5,"y":1.8},{"x":82.0,"y":2.1},{"x":82.5,"y":1.8},{"x":83.0,"y":2.1},{"x":83.5,"y":1.8},{"x":84.0,"y":2.1},{"x":84.5,"y":1.8},{"x":85.0,"y":2.1},{"x":85.5,"y":1.8},{"x":86.0,"y":2.1},{"x":86.5,"y":1.8},{"x":87.0,"y":2.1},{"x":87.5,"y":1.8},{"x":88.0,"y":2.1},{"x":88.4,"y":2.5},
      {"x":88.7,"y":3.5},{"x":88.85,"y":5.2},{"x":89.0,"y":6.7},{"x":89.15,"y":5.5},{"x":89.3,"y":3.6},
      {"x":89.6,"y":2.4},{"x":90.0,"y":1.8},{"x":90.5,"y":2.1},{"x":91.0,"y":1.8},{"x":91.5,"y":2.1},{"x":92.0,"y":1.8},{"x":92.5,"y":2.1},{"x":93.0,"y":1.8},{"x":93.5,"y":2.1},{"x":94.0,"y":1.8},{"x":94.5,"y":2.1},{"x":95.0,"y":1.8},{"x":95.5,"y":2.3},
      {"x":95.9,"y":3.5},{"x":96.05,"y":5.3},{"x":96.2,"y":7.0},{"x":96.35,"y":5.8},{"x":96.5,"y":3.8},
      {"x":96.9,"y":2.3},{"x":97.5,"y":1.8},{"x":98.0,"y":2.1},{"x":98.5,"y":1.8},{"x":99.0,"y":2.1},{"x":99.5,"y":1.8},{"x":100.0,"y":2.0}
    ],
    "cDiff": [
      {"x":10,"y":-25.4},{"x":11,"y":-25.7},{"x":12,"y":-25.3},{"x":13,"y":-25.6},{"x":14,"y":-25.2},{"x":14.3,"y":-25.9},{"x":15,"y":-25.4},{"x":16,"y":-25.6},{"x":17,"y":-25.3},{"x":18,"y":-25.5},{"x":19,"y":-25.2},{"x":20,"y":-25.6},{"x":21,"y":-25.3},{"x":22,"y":-25.5},{"x":23,"y":-25.2},{"x":24,"y":-25.4},{"x":25,"y":-25.6},{"x":26,"y":-25.3},{"x":27,"y":-25.5},{"x":28,"y":-25.1},{"x":28.7,"y":-24.0},{"x":28.85,"y":-27.6},{"x":29.0,"y":-24.5},{"x":29.5,"y":-25.3},{"x":30,"y":-25.6},{"x":31,"y":-25.3},{"x":32,"y":-25.5},{"x":33,"y":-25.0},{"x":33.35,"y":-24.0},{"x":33.6,"y":-25.9},{"x":34,"y":-25.3},{"x":35,"y":-25.6},{"x":36,"y":-25.2},{"x":36.5,"y":-24.6},{"x":37,"y":-25.6},{"x":38,"y":-25.3},{"x":39,"y":-25.5},{"x":40,"y":-25.2},{"x":41,"y":-25.6},{"x":42,"y":-25.3},{"x":43,"y":-25.5},{"x":44,"y":-25.2},{"x":45,"y":-25.6},{"x":46,"y":-25.3},{"x":47,"y":-25.5},{"x":47.6,"y":-23.6},{"x":47.75,"y":-27.0},{"x":48,"y":-25.0},{"x":49,"y":-25.5},{"x":50,"y":-25.2},{"x":51,"y":-25.6},{"x":52,"y":-25.3},{"x":53,"y":-25.5},{"x":54,"y":-25.2},{"x":55,"y":-25.6},{"x":56,"y":-25.3},{"x":56.6,"y":-24.0},{"x":56.8,"y":-26.8},{"x":57,"y":-25.2},{"x":58,"y":-25.5},{"x":59,"y":-25.2},{"x":59.5,"y":-26.2},{"x":59.8,"y":-24.8},{"x":60,"y":-26.0},{"x":61,"y":-25.4},{"x":62,"y":-25.6},{"x":63,"y":-25.3},{"x":64,"y":-25.5},{"x":65,"y":-25.2},{"x":66,"y":-25.6},{"x":67,"y":-25.3},{"x":68,"y":-25.5},{"x":69,"y":-25.2},{"x":69.9,"y":-24.2},{"x":70.1,"y":-26.0},{"x":71,"y":-25.4},{"x":72,"y":-25.5},{"x":73,"y":-25.2},{"x":74,"y":-25.6},{"x":75,"y":-25.3},{"x":76,"y":-25.5},{"x":77,"y":-25.0},{"x":77.2,"y":-23.6},{"x":77.4,"y":-27.4},{"x":77.7,"y":-25.0},{"x":78,"y":-25.5},{"x":79,"y":-25.2},{"x":79.6,"y":-24.0},{"x":79.8,"y":-26.9},{"x":80.2,"y":-25.4},{"x":81,"y":-25.5},{"x":82,"y":-25.2},{"x":83,"y":-25.6},{"x":84,"y":-25.3},{"x":85,"y":-25.5},{"x":86,"y":-25.2},{"x":87,"y":-25.6},{"x":88,"y":-25.3},{"x":89.0,"y":-24.0},{"x":89.2,"y":-26.2},{"x":90,"y":-25.5},{"x":91,"y":-25.2},{"x":92,"y":-25.6},{"x":93,"y":-25.3},{"x":94,"y":-25.5},{"x":95,"y":-25.2},{"x":96,"y":-25.0},{"x":96.2,"y":-27.8},{"x":96.4,"y":-24.8},{"x":97,"y":-25.5},{"x":98,"y":-25.3},{"x":99,"y":-25.5},{"x":100,"y":-25.4}
    ],
    "cRefl": [
      {"x":14.2},{"x":23.4},{"x":27.4},{"x":28.7},{"x":33.3},{"x":36.5},{"x":41.2},{"x":43.8},{"x":47.8},{"x":50.0},{"x":50.5},{"x":51.0},{"x":53.9},{"x":56.0},{"x":56.7},{"x":59.6},{"x":61.6},{"x":65.1},{"x":66.9},{"x":70.1},{"x":72.0},{"x":72.4},{"x":72.8},{"x":74.8},{"x":76.7},{"x":77.1},{"x":77.5},{"x":79.8},{"x":81.2},{"x":81.7},{"x":82.2},{"x":84.6},{"x":86.4},{"x":89.2},{"x":91.1},{"x":93.9},{"x":95.5},{"x":96.0},{"x":96.4}
    ],
    "cKeySym": [
      {"x":57.4,"y":98.8,"t":"-"},{"x":58.1,"y":90.1,"t":"+"},{"x":57.4,"y":81.6,"t":"|"},{"x":58.6,"y":73.2,"t":"..."}
    ],
    "cKeyText": [
      {"x":62.9,"y":98.8,"t":"Experiment"},{"x":62.6,"y":90.1,"t":"Simulation"},{"x":62.6,"y":81.6,"t":"Observed reflections"},{"x":63.8,"y":73.2,"t":"Difference"}
    ],
    "cTag": [{"x":5.3,"y":101.7,"t":"(c)"}]
  },
  "spacing": 120,
  "bounds": "flush",
  "vconcat": [
    {
      "width": 567,
      "height": 430,
      "layer": [
        {
          "data": {"name": "aInTa"},
          "mark": {"type": "line", "color": "#4d4d4d", "strokeWidth": 1.3, "clip": true},
          "encoding": {
            "x": {"field": "x", "type": "quantitative", "scale": {"domain": [0, 100], "nice": false, "zero": false},
              "axis": {"values": [0,10,20,30,40,50,60,70,80,90,100], "labelExpr": "datum.value % 20 === 0 ? datum.label : ''",
                "tickSize": {"condition": {"test": "datum.value % 20 === 0", "value": 10}, "value": 6},
                "labelAlign": {"condition": {"test": "datum.value === 100", "value": "right"}, "value": "center"},
                "labelOffset": {"condition": {"test": "datum.value === 100", "value": 5}, "value": 0},
                "labelPadding": 12, "labelBaseline": "middle", "title": "2θ (degree)", "titleY": 52, "titleBaseline": "middle"}},
            "y": {"field": "y", "type": "quantitative", "scale": {"domain": [0, 100], "nice": false},
              "axis": {"ticks": false, "labels": false, "title": "Intensity (a. u.)", "titleX": -45, "titleY": 247, "titleBaseline": "bottom"}}
          }
        },
        {
          "data": {"name": "aAlVO"},
          "mark": {"type": "line", "color": "#111", "strokeWidth": 1.3, "clip": true},
          "encoding": {"x": {"field": "x", "type": "quantitative"}, "y": {"field": "y", "type": "quantitative"}}
        },
        {
          "data": {"name": "aHkl"},
          "mark": {"type": "text", "angle": 270, "align": "center", "baseline": "middle", "fontSize": 15, "fontWeight": "bold", "color": "#222"},
          "encoding": {"x": {"field": "x", "type": "quantitative"}, "y": {"field": "y", "type": "quantitative"}, "text": {"field": "t"}}
        },
        {
          "data": {"name": "aNameMain"},
          "mark": {"type": "text", "align": "left", "baseline": "alphabetic", "fontSize": 21, "fontWeight": "bold"},
          "encoding": {"x": {"field": "x", "type": "quantitative"}, "y": {"field": "y", "type": "quantitative"}, "text": {"field": "t"}}
        },
        {
          "data": {"name": "aNameSub"},
          "mark": {"type": "text", "align": "left", "baseline": "alphabetic", "fontSize": 14, "fontWeight": "bold"},
          "encoding": {"x": {"field": "x", "type": "quantitative"}, "y": {"field": "y", "type": "quantitative"}, "text": {"field": "t"}}
        },
        {
          "data": {"name": "aTag"},
          "mark": {"type": "text", "align": "left", "baseline": "middle", "fontSize": 20},
          "encoding": {"x": {"field": "x", "type": "quantitative"}, "y": {"field": "y", "type": "quantitative"}, "text": {"field": "t"}}
        }
      ]
    },
    {
      "spacing": 111,
      "bounds": "flush",
      "vconcat": [
        {
          "width": 565,
          "height": 491,
          "layer": [
            {
              "data": {"name": "bExp"},
              "mark": {"type": "line", "color": "#111", "strokeWidth": 1.0, "clip": true},
              "encoding": {
                "x": {"field": "x", "type": "quantitative", "scale": {"domain": [0, 102.9], "nice": false, "zero": false},
                  "axis": {"values": [0,10,20,30,40,50,60,70,80,90,100], "labelExpr": "datum.value % 20 === 0 ? datum.label : ''",
                    "tickSize": {"condition": {"test": "datum.value % 20 === 0", "value": -11}, "value": -6},
                    "labelPadding": 34, "labelBaseline": "middle", "title": "2θ (degree)", "titleY": 55, "titleBaseline": "middle"}},
                "y": {"field": "y", "type": "quantitative", "scale": {"domain": [0, 100], "nice": false},
                  "axis": {"ticks": false, "labels": false, "title": "Intensity (a.u.)", "titleX": -45, "titleY": 276, "titleBaseline": "bottom"}}
              }
            },
            {
              "data": {"name": "bExp"},
              "mark": {"type": "point", "shape": "M-1,-1L1,1M-1,1L1,-1", "filled": false, "size": 150, "stroke": "#0a0a0a", "strokeWidth": 1.3, "opacity": 1, "clip": true},
              "encoding": {"x": {"field": "x", "type": "quantitative"}, "y": {"field": "y", "type": "quantitative"}}
            },
            {
              "data": {"name": "bSim"},
              "mark": {"type": "line", "color": "#000", "strokeWidth": 1.2, "clip": true},
              "encoding": {"x": {"field": "x", "type": "quantitative"}, "y": {"field": "y", "type": "quantitative"}}
            },
            {
              "data": {"name": "bDiff"},
              "mark": {"type": "line", "color": "#111", "strokeWidth": 1.1, "clip": true},
              "encoding": {"x": {"field": "x", "type": "quantitative"}, "y": {"field": "y", "type": "quantitative"}}
            },
            {
              "data": {"name": "bRefl"},
              "mark": {"type": "tick", "orient": "vertical", "size": 9, "thickness": 1, "color": "#555"},
              "encoding": {"x": {"field": "x", "type": "quantitative"}, "y": {"datum": 11.8}}
            },
            {
              "data": {"name": "bKeyLine"},
              "transform": [{"filter": "datum.k === 'exp' || datum.k === 'sim'"}],
              "mark": {"type": "rule", "color": "#333", "strokeWidth": 1.2},
              "encoding": {"x": {"field": "x", "type": "quantitative"}, "x2": {"field": "x2"}, "y": {"field": "y", "type": "quantitative"}}
            },
            {
              "data": {"name": "bKeyLine"},
              "transform": [{"filter": "datum.k === 'diff'"}],
              "mark": {"type": "rule", "color": "#333", "strokeWidth": 1, "strokeDash": [1, 1]},
              "encoding": {"x": {"field": "x", "type": "quantitative"}, "x2": {"field": "x2"}, "y": {"field": "y", "type": "quantitative"}}
            },
            {
              "data": {"name": "bKeyMark"},
              "mark": {"type": "point", "shape": "M-1,-1L1,1M-1,1L1,-1", "filled": false, "size": 250, "stroke": "#333", "strokeWidth": 1.1, "opacity": 1},
              "encoding": {"x": {"field": "x", "type": "quantitative"}, "y": {"field": "y", "type": "quantitative"}}
            },
            {
              "data": {"name": "bKeyRefl"},
              "mark": {"type": "tick", "orient": "vertical", "size": 10, "thickness": 1, "color": "#666"},
              "encoding": {"x": {"field": "x", "type": "quantitative"}, "y": {"field": "y", "type": "quantitative"}}
            },
            {
              "data": {"name": "bKeyText"},
              "mark": {"type": "text", "align": "left", "baseline": "middle", "fontSize": 21, "fontWeight": "bold"},
              "encoding": {"x": {"field": "x", "type": "quantitative"}, "y": {"field": "y", "type": "quantitative"}, "text": {"field": "t"}}
            },
            {
              "data": {"name": "bTag"},
              "mark": {"type": "text", "align": "left", "baseline": "middle", "fontSize": 20},
              "encoding": {"x": {"field": "x", "type": "quantitative"}, "y": {"field": "y", "type": "quantitative"}, "text": {"field": "t"}}
            }
          ]
        },
        {
          "width": 568,
          "height": 501,
          "layer": [
            {
              "data": {"name": "cExp"},
              "mark": {"type": "line", "color": "#222", "strokeWidth": 0.9, "clip": true},
              "encoding": {
                "x": {"field": "x", "type": "quantitative", "scale": {"domain": [0, 110], "nice": false, "zero": false},
                  "axis": {"values": [0,10,20,30,40,50,60,70,80,90,100,110], "labelExpr": "datum.value % 20 === 0 && datum.value <= 100 ? datum.label : ''",
                    "tickSize": {"condition": {"test": "datum.value % 20 === 0", "value": 7}, "value": 5.5},
                    "labelPadding": 20, "labelBaseline": "middle", "title": "2θ (degree)", "titleY": 54, "titleBaseline": "middle"}},
                "y": {"field": "y", "type": "quantitative", "scale": {"domain": [-30, 110], "nice": false, "zero": false},
                  "axis": {"values": [-20,-10,0,10,20,30,40,50,60,70,80,90,100], "labelExpr": "datum.value % 20 === 0 ? datum.label : ''",
                    "tickSize": {"condition": {"test": "datum.value % 20 === 0", "value": -9}, "value": -5},
                    "labelPadding": 16, "labelFontWeight": "normal", "labelAlign": "right", "labelBaseline": "middle",
                    "title": "Intensity (a.u.)", "titleX": -45, "titleY": 267, "titleBaseline": "bottom"}}
              }
            },
            {
              "data": {"name": "cExp"},
              "mark": {"type": "point", "shape": "M-1,0L1,0", "filled": false, "size": 100, "stroke": "#000", "strokeWidth": 2.2, "opacity": 1, "clip": true},
              "encoding": {"x": {"field": "x", "type": "quantitative"}, "y": {"field": "y", "type": "quantitative"}}
            },
            {
              "data": {"name": "cExp"},
              "mark": {"type": "point", "shape": "M-1,0L1,0M0,-1L0,1", "filled": false, "size": 80, "stroke": "#111", "strokeWidth": 1.3, "opacity": 1, "clip": true},
              "encoding": {"x": {"field": "x", "type": "quantitative"}, "y": {"field": "y", "type": "quantitative"}}
            },
            {
              "data": {"name": "cDiff"},
              "mark": {"type": "line", "color": "#222", "strokeWidth": 1.3, "strokeDash": [2, 1], "clip": true},
              "encoding": {"x": {"field": "x", "type": "quantitative"}, "y": {"field": "y", "type": "quantitative"}}
            },
            {
              "data": {"name": "cRefl"},
              "mark": {"type": "tick", "orient": "vertical", "size": 41, "thickness": 2.4, "color": "#000"},
              "encoding": {"x": {"field": "x", "type": "quantitative"}, "y": {"datum": -10.4}}
            },
            {
              "data": {"name": "cKeySym"},
              "mark": {"type": "text", "align": "center", "baseline": "middle", "fontSize": 21, "fontWeight": "bold"},
              "encoding": {"x": {"field": "x", "type": "quantitative"}, "y": {"field": "y", "type": "quantitative"}, "text": {"field": "t"}}
            },
            {
              "data": {"name": "cKeyText"},
              "mark": {"type": "text", "align": "left", "baseline": "middle", "fontSize": 21, "fontWeight": "bold"},
              "encoding": {"x": {"field": "x", "type": "quantitative"}, "y": {"field": "y", "type": "quantitative"}, "text": {"field": "t"}}
            },
            {
              "data": {"name": "cTag"},
              "mark": {"type": "text", "align": "left", "baseline": "middle", "fontSize": 20},
              "encoding": {"x": {"field": "x", "type": "quantitative"}, "y": {"field": "y", "type": "quantitative"}, "text": {"field": "t"}}
            }
          ]
        }
      ]
    }
  ]
}
